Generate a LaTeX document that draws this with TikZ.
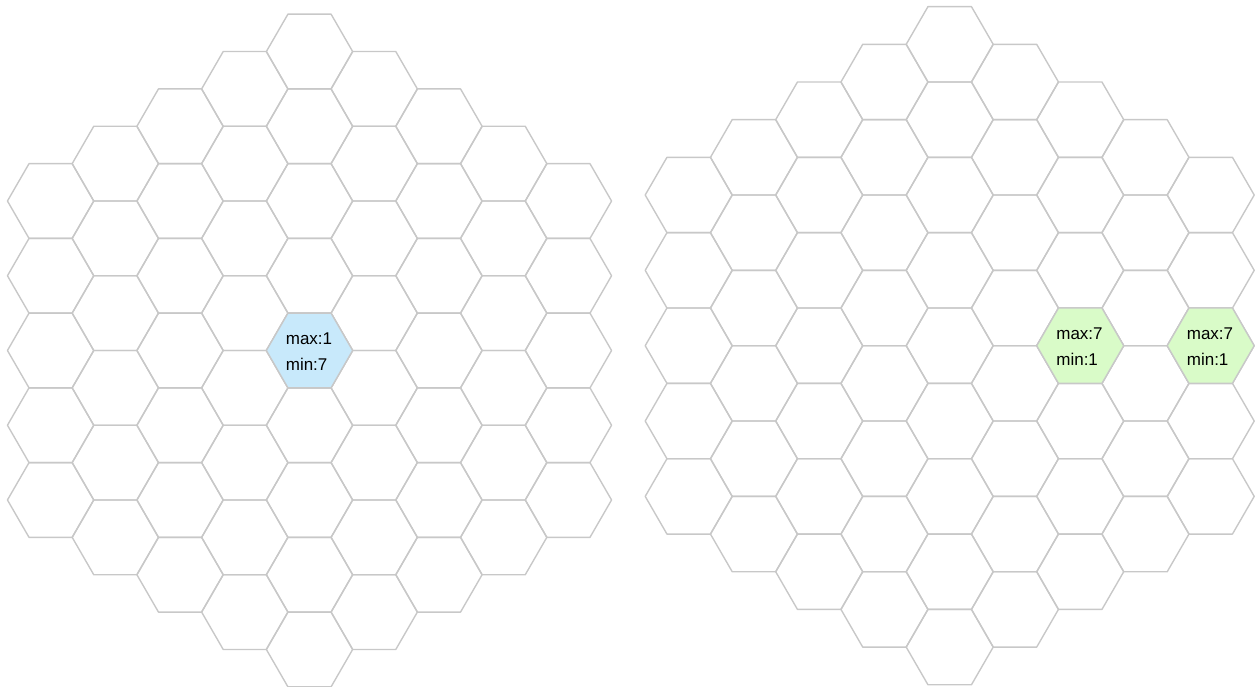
\documentclass[tikz,border=0pt]{standalone}
\usepackage{fontspec}
\setmainfont{Liberation Sans}
\usepackage{xcolor}
\usetikzlibrary{math}

\definecolor{hexgray}{RGB}{200,200,200}
\definecolor{cellblue}{RGB}{200,233,251}
\definecolor{cellgreen}{RGB}{217,251,200}

\tikzset{
  hexline/.style={draw=hexgray, line width=1.4pt, line join=round},
  celltext/.style={align=left, inner sep=0pt, text=black, font=\fontsize{17}{26}\selectfont}
}

% one flat-topped hexagon: [options]{x}{y}{radius}
\newcommand{\drawhex}[4][]{%
  \draw[hexline,#1,shift={(#2,#3)}] (0:#4) -- (60:#4) -- (120:#4) -- (180:#4)
    -- (240:#4) -- (300:#4) -- cycle;}

\begin{document}
\begin{tikzpicture}[x=1pt,y=-1pt]
\useasboundingbox (0,0) rectangle (1255,687);

% two boards of radius 4
\foreach \cx/\cy/\R in {309.5/350.5/43.15, 949.7/345.7/43.5}{
  \foreach \q in {-4,...,4}{
    \foreach \r in {-4,...,4}{
      \pgfmathtruncatemacro\s{abs(\q+\r)}
      \pgfmathsetmacro\hx{\cx+1.5*\R*\q}
      \pgfmathsetmacro\hy{\cy+sqrt(3)*\R*(\r+\q/2)}
      \ifnum\s<5 \drawhex{\hx}{\hy}{\R}\fi
    }
  }
}

% marked cells
\drawhex[fill=cellblue]{309.5}{350.5}{43.15}
\node[celltext] (leftcell) at (309,351.5) {max:1\\min:7};

\drawhex[fill=cellgreen]{1080.2}{345.7}{43.5}
\node[celltext] (rightcella) at (1079.5,346.5) {max:7\\min:1};

\drawhex[fill=cellgreen]{1210.7}{345.7}{43.5}
\node[celltext] (rightcellb) at (1210,346.5) {max:7\\min:1};
\end{tikzpicture}
\end{document}
